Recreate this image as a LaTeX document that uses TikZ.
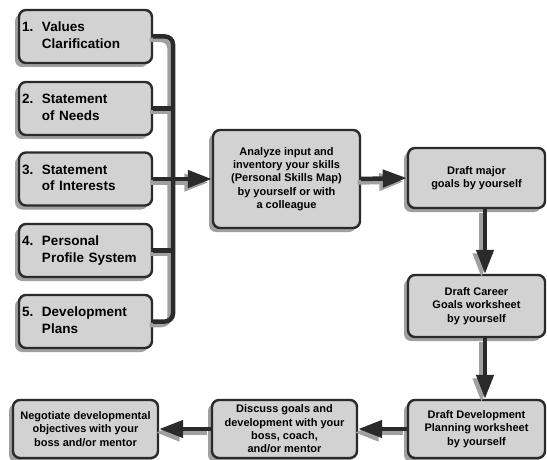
\documentclass[tikz,border=0pt]{standalone}
\usepackage{fontspec}
\setmainfont{Liberation Sans}
\usetikzlibrary{arrows.meta,shadows,calc}
\definecolor{boxfill}{HTML}{D2D2D2}
\definecolor{shadowgray}{HTML}{A0A0A0}
\definecolor{linedark}{HTML}{2A2A2A}
\tikzset{
  box/.style={draw=linedark, line width=2.4pt, fill=boxfill, rounded corners=7pt,
    drop shadow={shadow xshift=-4pt, shadow yshift=-4pt, fill=shadowgray, opacity=1},
    font=\bfseries, inner sep=3pt},
  leftbox/.style={box, text width=127pt, minimum height=53pt, align=left,
    font=\bfseries\fontsize{13.5}{16.5}\selectfont},
  midbox/.style={box, align=center, font=\bfseries\fontsize{11}{13.4}\selectfont},
  conn/.style={draw=linedark, line width=4.5pt},
  connshadow/.style={draw=shadowgray, line width=4.5pt, transform canvas={shift={(-3.5pt,-3.5pt)}}},
  arr/.style={conn, -{Triangle[length=24pt,width=17pt]}},
  arrshadow/.style={connshadow, -{Triangle[length=24pt,width=17pt]}},
}
\newcommand{\numtxt}[3]{\begin{tabular}{@{}p{20pt}@{}l@{}}#1&#2\\&#3\end{tabular}}
\begin{document}
\begin{tikzpicture}[x=1pt,y=-1pt]
\useasboundingbox (0,0) rectangle (547,460);
\coordinate (barx) at (173,0);
% nodes (positions)
\path
  (85.5,36.5) node[leftbox] (b1) {\numtxt{1.}{Values}{Clarification}}
  (85.5,108.5) node[leftbox] (b2) {\numtxt{2.}{Statement}{of Needs}}
  (85.5,179) node[leftbox] (b3) {\numtxt{3.}{Statement}{of Interests}}
  (85.5,250.5) node[leftbox] (b4) {\numtxt{4.}{Personal}{Profile System}}
  (85.5,321.5) node[leftbox] (b5) {\numtxt{5.}{Development}{Plans}};
\path
  (286.5,179) node[midbox, minimum width=147pt, minimum height=98pt] (C)
     {Analyze input and\\inventory your skills\\(Personal Skills Map)\\by yourself or with\\a colleague}
  (476.5,178) node[midbox, minimum width=137pt, minimum height=60pt] (D1)
     {Draft major\\goals by yourself}
  (476.5,306) node[midbox, minimum width=137pt, minimum height=62pt] (D2)
     {Draft Career\\Goals worksheet\\by yourself}
  (476.5,429) node[midbox, minimum width=137pt, minimum height=58pt] (D3)
     {Draft Development\\Planning worksheet\\by yourself}
  (284.5,429) node[midbox, minimum width=145pt, minimum height=58pt] (E)
     {Discuss goals and\\development with your\\boss, coach,\\and/or mentor}
  (85.5,429) node[midbox, minimum width=145pt, minimum height=58pt] (F)
     {Negotiate developmental\\objectives with your\\boss and/or mentor};
% connectors: shadows
\begin{scope}[on background layer/.style={}]
\draw[connshadow, rounded corners=8pt] (b1.east) -| (b3.east -| barx) |- (b5.east);
\draw[connshadow] (b2.east) -- (b2.east -| barx);
\draw[connshadow] (b4.east) -- (b4.east -| barx);
\draw[arrshadow] (b3.east) -- (C.west);
\draw[arrshadow] (C.east) -- (D1.west);
\draw[arrshadow] ($(D1.south)+(8.5,0)$) -- ($(D2.north)+(8.5,0)$);
\draw[arrshadow] ($(D2.south)+(8.5,0)$) -- ($(D3.north)+(8.5,0)$);
\draw[arrshadow] (D3.west) -- (E.east);
\draw[arrshadow] (E.west) -- (F.east);
% connectors
\draw[conn, rounded corners=8pt] (b1.east) -| (b3.east -| barx) |- (b5.east);
\draw[conn] (b2.east) -- (b2.east -| barx);
\draw[conn] (b4.east) -- (b4.east -| barx);
\draw[arr] (b3.east) -- (C.west);
\draw[arr] (C.east) -- (D1.west);
\draw[arr] ($(D1.south)+(8.5,0)$) -- ($(D2.north)+(8.5,0)$);
\draw[arr] ($(D2.south)+(8.5,0)$) -- ($(D3.north)+(8.5,0)$);
\draw[arr] (D3.west) -- (E.east);
\draw[arr] (E.west) -- (F.east);
\end{scope}
\end{tikzpicture}
\end{document}
